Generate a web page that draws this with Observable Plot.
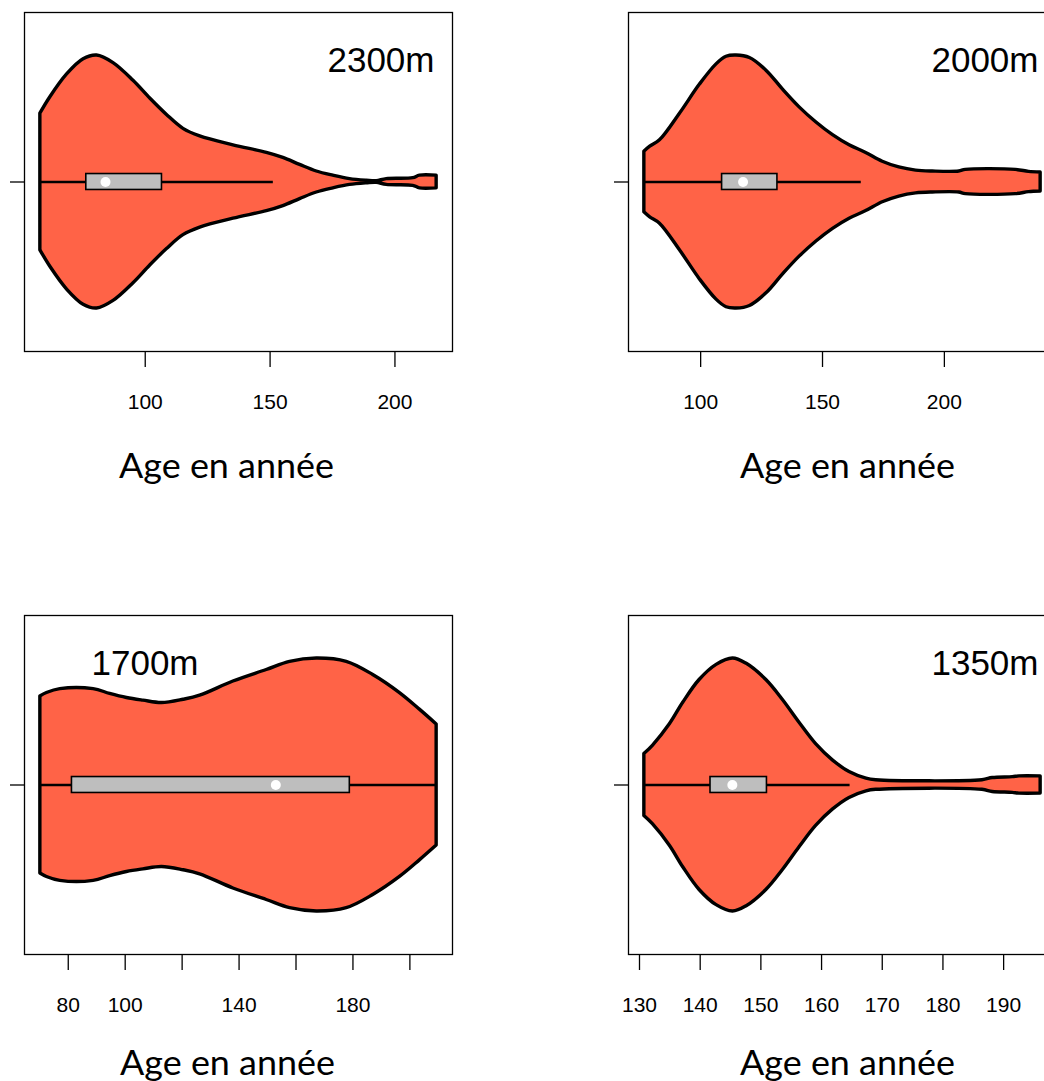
<!DOCTYPE html>
<html><head><meta charset="utf-8">
<script src="https://cdn.jsdelivr.net/npm/d3@7"></script>
<script src="https://cdn.jsdelivr.net/npm/@observablehq/plot@0.6"></script>
<style>
body{margin:0;background:#fff;}
#fig{position:relative;width:1044px;height:1081px;overflow:hidden;background:#fff;}
.panel{position:absolute;width:460px;height:481px;}
.panel svg{max-width:none !important;}
</style></head><body><div id="fig"></div>
<script>
// ---- Data ----
const labels = ["2300m", "2000m", "1700m", "1350m"];

// density half-widths, as percent of each violin's maximum width
const ages2300 = [58, 62, 68.7, 75.3, 80.7, 87.3, 95.3, 102, 108.7, 115.3, 122, 135.3, 148.7, 155.3, 162, 168.7, 175.3, 182, 188.7, 192.7, 196.7, 207.3, 210, 216.7];
const dens2300 = [54, 67, 85, 97, 100, 94, 80, 66, 53, 42, 36, 29, 23, 19, 13.5, 8.3, 5, 2.3, 1, 0.6, 2.3, 3, 5, 5];

const ages2000 = [76.9, 79.3, 83.3, 91.5, 99.7, 106.5, 110.6, 114.7, 120.2, 127, 133.8, 140.6, 147.5, 154.3, 161.1, 167.9, 174.7, 181.5, 188.4, 195.2, 206.1, 208.8, 229.3, 234.7, 239.5];
const dens2000 = [24, 28, 33, 54, 77, 93, 99, 100, 98, 88, 73, 59, 47, 37, 29, 23, 16, 11.5, 9, 8.3, 8.3, 9.6, 9.6, 8, 7.5];

const ages1700 = [70.2, 72.5, 77.2, 88.9, 94.7, 100.6, 106.4, 112.9, 120.5, 126.3, 138, 149.7, 157.9, 167.3, 177.8, 187.1, 196.5, 203.5, 209.4];
const dens1700 = [70, 72.7, 75.8, 75.8, 72, 68.8, 66.7, 64.8, 67.4, 70.6, 81.8, 90.9, 97.4, 100, 97.4, 87, 72.7, 59.6, 47.9];

const ages1350 = [130.8, 132.2, 135, 137.2, 139.9, 142.7, 145.4, 147.6, 150.9, 153.6, 156.4, 159.1, 161.9, 164.6, 167.4, 169, 186.5, 188.2, 191.5, 192.6, 196.1];
const dens1350 = [24.5, 31, 48, 65, 83, 95, 100, 96, 83, 67.4, 49, 32.3, 19.3, 10.2, 5, 3.8, 3.8, 5.5, 6.2, 6.8, 6.8];

// box statistics: lower whisker, Q1, median, Q3, upper whisker
const lo  = [58,    76.9,  70.2,  130.8];
const q1  = [76.4,  108.8, 81.3,  141.7];
const med = [84.1,  117.4, 152.9, 145.3];
const q3  = [106.7, 131.5, 178.9, 151];
const hi  = [151.3, 165.9, 209.4, 164.7];

// axis ticks and which ticks carry a label
const ticks2300 = [100, 150, 200], tickLabels2300 = [100, 150, 200];
const ticks2000 = [100, 150, 200], tickLabels2000 = [100, 150, 200];
const ticks1700 = [80, 100, 120, 140, 160, 180, 200], tickLabels1700 = [80, 100, 140, 180];
const ticks1350 = [130, 140, 150, 160, 170, 180, 190], tickLabels1350 = [130, 140, 150, 160, 170, 180, 190];

const xTitle = "Age en année";

// ---- Layout / style ----
const BOXH = 6.3; // box half-height (boxwidth), in density-percent units
const layout = [
  {left: 0,   top: 0,   anchor: "top-right", tdx: -18, adx: -12, ady: 102},
  {left: 604, top: 0,   anchor: "top-right", tdx: -18, adx: 5,   ady: 102},
  {left: 0,   top: 603, anchor: "top-left",  tdx: 67,  adx: -11, ady: 96},
  {left: 604, top: 603, anchor: "top-right", tdx: -18, adx: 5,   ady: 96}
];
const series = [
  {ages: ages2300, dens: dens2300, ticks: ticks2300, tl: tickLabels2300},
  {ages: ages2000, dens: dens2000, ticks: ticks2000, tl: tickLabels2000},
  {ages: ages1700, dens: dens1700, ticks: ticks1700, tl: tickLabels1700},
  {ages: ages1350, dens: dens1350, ticks: ticks1350, tl: tickLabels1350}
];

const fig = document.getElementById("fig");

series.forEach((s, i) => {
  const L = layout[i];
  const data = s.ages.map((a, j) => ({age: a, w: s.dens[j]}));
  const [mn, mx] = d3.extent(s.ages);
  const pad = (mx - mn) * 0.04;
  const stats = [{lo: lo[i], q1: q1[i], med: med[i], q3: q3[i], hi: hi[i]}];
  const labelSet = new Set(s.tl);
  const svg = Plot.plot({
    width: 460, height: 481,
    marginLeft: 24, marginRight: 8, marginTop: 12, marginBottom: 130,
    x: {domain: [mn - pad, mx + pad]},
    y: {domain: [-134, 134]},
    style: {fontFamily: "'Liberation Sans', Arial, sans-serif", background: "white", color: "black", overflow: "visible", maxWidth: "none"},
    marks: [
      Plot.areaY(data, {x: "age", y1: d => -d.w, y2: d => d.w, fill: "#FF6347", stroke: "black", strokeWidth: 3.4, strokeLinejoin: "round", curve: "catmull-rom"}),
      Plot.ruleY(stats, {x1: "lo", x2: "hi", y: 0, stroke: "black", strokeWidth: 2.6}),
      Plot.rect(stats, {x1: "q1", x2: "q3", y1: -BOXH, y2: BOXH, fill: "#BEBEBE", stroke: "black", strokeWidth: 1.6}),
      Plot.dot(stats, {x: "med", y: 0, r: 5, fill: "white", stroke: "none"}),
      Plot.frame({stroke: "black", strokeWidth: 1.3}),
      Plot.axisX({ticks: s.ticks, tickSize: 16, tickPadding: 27, fontSize: 21, tickFormat: d => labelSet.has(d) ? String(d) : "", label: null, strokeWidth: 1.3}),
      Plot.axisY({ticks: [0], tickSize: 14, tickFormat: () => "", label: null, strokeWidth: 1.3}),
      Plot.text([labels[i]], {text: d => d, frameAnchor: L.anchor, dx: L.tdx, dy: 35, fontSize: 35, lineAnchor: "top", textAnchor: L.anchor === "top-left" ? "start" : "end"}),
      Plot.text([xTitle], {text: d => d, frameAnchor: "bottom", dx: L.adx, dy: L.ady, fontSize: 34, fontFamily: "Lato, 'Open Sans', sans-serif", lineAnchor: "top"})
    ]
  });
  d3.select(svg).selectAll("text").filter(function() { return this.textContent === xTitle; })
    .attr("textLength", 215).attr("lengthAdjust", "spacingAndGlyphs");
  const div = document.createElement("div");
  div.className = "panel";
  div.style.left = L.left + "px";
  div.style.top = L.top + "px";
  div.appendChild(svg);
  fig.appendChild(div);
});
</script></body></html>
